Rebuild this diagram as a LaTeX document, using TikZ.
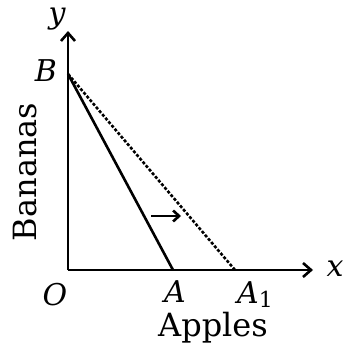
\documentclass[tikz,border=0pt]{standalone}
\usepackage{fontspec}
\setmainfont{DejaVu Serif}
\usetikzlibrary{arrows.meta}
\begin{document}
\begin{tikzpicture}[x=1pt,y=-1pt,
  axis/.style={line width=2.9pt,-{Straight Barb[length=8pt,width=14pt,line width=2.6pt]}},
  budget/.style={line width=2.6pt},
  shifted/.style={line width=2.6pt,dash pattern=on 3pt off 1.8pt},
  lbl/.style={inner sep=0pt,font=\fontsize{30}{34}\selectfont\itshape},
  word/.style={inner sep=0pt,font=\fontsize{32}{36}\selectfont}]
\useasboundingbox (0,0) rectangle (343,345);
\coordinate (O) at (68,270);
\coordinate (Ytip) at (68,31);
\coordinate (Xtip) at (313,270);
\coordinate (B) at (68,74);
\coordinate (A) at (173,270);
\coordinate (A1) at (235,270);
\coordinate (s1) at (151,216);
\coordinate (s2) at (181,216);
\draw[axis] (O) -- (Ytip);
\draw[axis] (O) -- (Xtip);
\draw[budget] (B) -- (A);
\draw[shifted] (B) -- (A1);
\draw[line width=2.8pt,-{Straight Barb[length=6pt,width=11pt,line width=2.6pt]}] (s1) -- (s2);
\node[lbl] (ly) at (57,19) {y};
\node[lbl] (lB) at (46,71) {B};
\node[lbl] (lx) at (335,269) {x};
\node[lbl] (lO) at (55,295) {O};
\node[lbl] (lA) at (175,292) {A};
\node[lbl,anchor=base west] (lA1) at (237,303) {A\raisebox{-4pt}{\fontsize{22}{24}\selectfont\upshape 1}};
\node[word] (apples) at (213,328) {Apples};
\node[word,rotate=90] (bananas) at (25,172) {Bananas};
\end{tikzpicture}
\end{document}
